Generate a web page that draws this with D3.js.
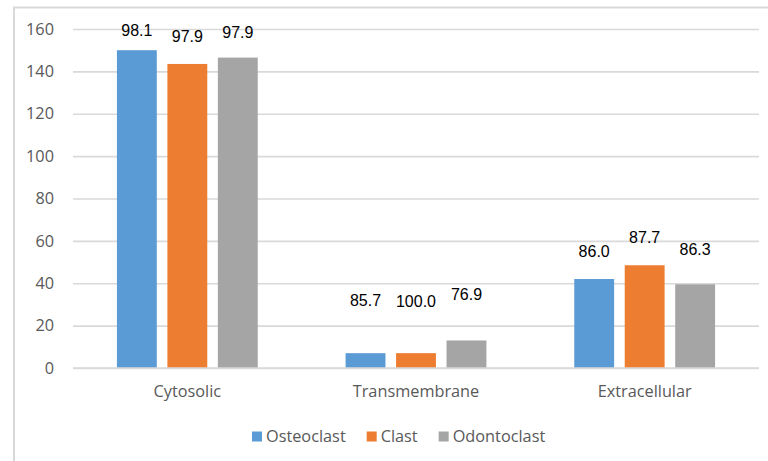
<!DOCTYPE html>
<html>
<head>
<meta charset="utf-8">
<script src="https://cdn.jsdelivr.net/npm/d3@7"></script>
<style>
  html, body { margin: 0; padding: 0; background: #fff; }
  svg { display: block; }
</style>
</head>
<body>
<svg id="chart" width="768" height="461"></svg>
<script>
// Protein localisation counts per cell type, with the percentage shown above each bar
const categories = ["Cytosolic", "Transmembrane", "Extracellular"];
const seriesNames = ["Osteoclast", "Clast", "Odontoclast"];
const seriesColors = ["#5b9bd5", "#ed7d31", "#a5a5a5"];

const osteoclastCounts = [150, 7, 42];
const clastCounts = [143.5, 7, 48.5];
const odontoclastCounts = [146.5, 13, 39.5];

const osteoclastPercent = ["98.1", "85.7", "86.0"];
const clastPercent = ["97.9", "100.0", "87.7"];
const odontoclastPercent = ["97.9", "76.9", "86.3"];

// height (in axis units) at which each percentage label sits
const osteoclastLabelLevel = [156.5, 29.2, 52.3];
const clastLabelLevel = [153.7, 28.8, 58.9];
const odontoclastLabelLevel = [155.6, 31.9, 53.2];

const yTicks = [0, 20, 40, 60, 80, 100, 120, 140, 160];

const seriesValues = [osteoclastCounts, clastCounts, odontoclastCounts];
const seriesLabels = [osteoclastPercent, clastPercent, odontoclastPercent];
const seriesLabelLevels = [osteoclastLabelLevel, clastLabelLevel, odontoclastLabelLevel];

const svg = d3.select("#chart");
const W = 768, H = 461;
const margin = { left: 73, right: 9, top: 29, bottom: 93 };
const plotW = W - margin.left - margin.right;
const plotH = H - margin.top - margin.bottom;

const axisFont = "'Open Sans', 'Liberation Sans', sans-serif";
const axisSize = "16.3px";
const axisColor = "#595959";

// outer frame (left and top edges)
svg.append("path")
  .attr("d", `M14,${H} L14,7.5 L${W},7.5`)
  .attr("fill", "none")
  .attr("stroke", "#d9d9d9")
  .attr("stroke-width", 2);

const g = svg.append("g").attr("transform", `translate(${margin.left},${margin.top})`);

const x0 = d3.scaleBand().domain(categories).range([0, plotW]).paddingInner(0).paddingOuter(0);
const x1 = d3.scaleBand().domain(seriesNames).range([0, x0.bandwidth()]).paddingInner(0.21).paddingOuter(0.87);
const y = d3.scaleLinear().domain([0, 160]).range([plotH, 0]);

// gridlines and y tick labels
const yAxis = d3.axisLeft(y).tickValues(yTicks).tickSize(-plotW).tickPadding(19);
const yg = g.append("g").call(yAxis);
yg.select(".domain").remove();
yg.selectAll(".tick line").attr("stroke", "#d9d9d9").attr("stroke-width", 1.6);
yg.selectAll(".tick text")
  .attr("fill", axisColor)
  .style("font-family", axisFont)
  .style("font-size", axisSize);

// category axis labels
const xAxis = d3.axisBottom(x0).tickSize(0).tickPadding(17);
const xg = g.append("g").attr("transform", `translate(0,${plotH})`).call(xAxis);
xg.select(".domain").remove();
xg.selectAll(".tick text")
  .attr("fill", axisColor)
  .style("font-family", axisFont)
  .style("font-size", axisSize);

// bars with their percentage labels
const groups = g.selectAll(".cat")
  .data(categories)
  .join("g")
  .attr("class", "cat")
  .attr("transform", d => `translate(${x0(d)},0)`);

groups.each(function (cat, ci) {
  const grp = d3.select(this);
  seriesNames.forEach((s, si) => {
    const v = seriesValues[si][ci];
    grp.append("rect")
      .attr("x", x1(s))
      .attr("y", y(v))
      .attr("width", x1.bandwidth())
      .attr("height", y(0) - y(v))
      .attr("fill", seriesColors[si]);
    grp.append("text")
      .attr("x", x1(s) + x1.bandwidth() / 2)
      .attr("y", y(seriesLabelLevels[si][ci]))
      .attr("text-anchor", "middle")
      .attr("fill", "#000")
      .style("font-family", "'Liberation Sans', Arial, sans-serif")
      .style("font-size", "16px")
      .text(seriesLabels[si][ci]);
  });
});

// baseline over the zero gridline
g.append("line")
  .attr("x1", 0).attr("x2", plotW)
  .attr("y1", y(0)).attr("y2", y(0))
  .attr("stroke", "#d9d9d9").attr("stroke-width", 1.6);

// legend
const legend = svg.append("g").attr("transform", "translate(252,436)");
let lx = 0;
seriesNames.forEach((s, i) => {
  const item = legend.append("g").attr("transform", `translate(${lx},0)`);
  item.append("rect").attr("x", 0).attr("y", -4.5).attr("width", 10).attr("height", 10).attr("fill", seriesColors[i]);
  const t = item.append("text")
    .attr("x", 14).attr("y", 0).attr("dy", "0.35em")
    .attr("fill", axisColor)
    .style("font-family", axisFont)
    .style("font-size", axisSize)
    .text(s);
  lx += 14 + t.node().getComputedTextLength() + 21;
});
</script>
</body>
</html>
